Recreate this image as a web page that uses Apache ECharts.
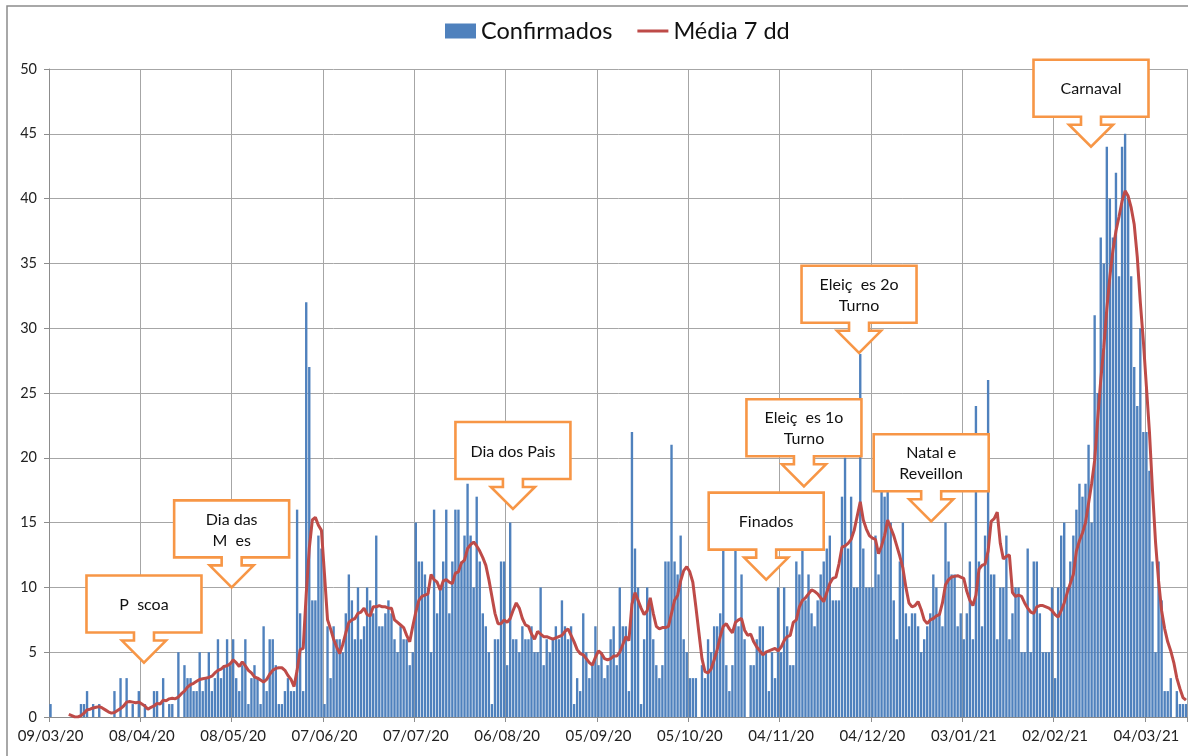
<!DOCTYPE html>
<html><head><meta charset="utf-8">
<script src="https://cdn.jsdelivr.net/npm/echarts@6/dist/echarts.min.js"></script>
<style>html,body{margin:0;padding:0;background:#fff}#c{width:1188px;height:756px}</style>
</head><body><div id="c"></div>
<script>
// ---- DATA ----
const startDate = [2020, 2, 9]; // 09/03/20 (first day)
const dayCount = 374;
const confirmados = [
1,0,0,0,0,0,0,0,0,0,
1,1,2,0,1,0,1,0,0,0,
0,2,0,3,0,3,0,1,0,2,
0,1,0,0,2,2,0,3,0,1,
1,0,5,0,4,3,3,2,2,5,
2,3,5,2,3,6,3,4,6,4,
6,3,2,4,6,1,3,4,3,1,
7,2,6,6,4,1,1,2,3,2,
2,16,8,2,32,27,9,9,14,13,
1,7,3,7,6,6,5,8,11,9,
6,10,6,7,10,9,8,14,7,7,
8,9,8,6,5,7,6,6,4,5,
15,12,12,11,10,5,16,8,10,12,
16,8,12,16,16,12,14,18,14,10,
17,12,8,7,5,1,6,6,12,12,
4,15,6,6,5,7,6,6,7,5,
5,10,4,6,5,6,7,6,9,7,
6,7,1,3,2,8,5,3,4,7,
4,5,3,4,6,7,4,10,7,7,
2,22,13,10,1,6,10,9,6,4,
3,4,12,12,21,12,11,14,6,5,
3,3,3,0,4,3,6,5,7,7,
8,13,4,2,4,13,7,11,6,0,
4,4,6,7,7,5,2,5,3,10,
5,10,7,4,4,12,11,13,9,11,
8,7,9,11,12,13,14,9,9,9,
17,20,13,17,10,10,28,13,10,10,
10,14,11,18,17,18,15,9,6,12,
15,8,7,8,8,7,5,6,7,8,
11,10,8,7,15,12,11,11,7,8,
6,8,12,6,24,12,7,14,26,11,
11,6,10,10,14,6,8,10,10,5,
5,13,5,12,12,8,5,5,5,10,
3,10,14,15,10,12,14,16,18,17,
18,21,15,31,25,37,35,44,40,37,
42,34,44,45,40,34,27,24,30,22,
22,19,12,5,12,9,2,2,3,0,
2,1,1,1
];
const media7 = [
null,null,null,null,null,null,0.2,0.1,0.0,0.0,
0.1,0.3,0.55,0.6,0.7,0.75,0.8,0.7,0.55,0.4,
0.3,0.35,0.5,0.65,0.85,1.15,1.2,1.15,1.1,1.15,
1.0,0.85,0.6,0.75,0.85,1.05,1.0,1.3,1.25,1.4,
1.45,1.4,1.55,1.8,2.0,2.3,2.5,2.6,2.75,2.9,
2.95,3.0,3.05,3.15,3.4,3.6,3.7,3.9,3.95,4.1,
4.4,4.2,3.9,4.25,3.95,3.6,3.4,3.1,3.0,2.85,
2.7,2.9,3.3,3.6,3.75,3.8,3.8,3.6,3.2,2.9,
2.35,3.6,5.2,5.3,9.5,13.0,15.2,15.4,14.8,14.4,
11.0,7.5,6.8,6.0,5.4,4.9,5.6,6.5,7.3,7.5,
7.6,8.0,8.1,8.4,7.9,7.8,8.5,8.5,8.6,8.5,
8.5,8.4,8.4,7.5,7.3,7.1,6.9,6.3,5.8,7.0,
8.1,9.0,9.3,9.4,9.5,11.0,10.6,10.4,9.8,10.5,
10.6,10.4,10.3,11.1,11.2,11.9,12.1,13.0,13.3,13.5,
13.2,12.8,12.3,11.7,10.6,9.3,8.0,7.2,7.2,7.5,
7.3,7.6,8.25,8.8,8.4,7.6,7.1,7.0,6.4,6.0,
6.6,6.4,6.2,6.2,6.1,6.0,6.1,6.2,6.3,6.6,
6.8,6.3,5.8,5.2,4.9,4.8,4.5,4.2,4.0,4.6,
5.1,4.9,4.5,4.4,4.5,4.7,4.7,5.0,5.6,6.2,
5.9,8.7,9.6,9.0,8.4,7.9,8.2,9.2,8.0,7.0,
6.8,6.9,6.9,7.0,8.0,9.0,9.4,10.5,11.3,11.6,
11.2,10.4,8.5,6.5,4.5,3.5,3.4,3.7,4.4,5.2,
6.2,7.0,7.2,6.8,6.5,7.3,7.5,7.6,6.7,6.3,
6.4,5.8,5.4,5.1,4.8,5.0,5.1,5.2,5.3,5.1,
5.4,5.9,6.2,6.3,7.3,7.5,8.5,9.0,9.2,9.5,
9.8,9.7,9.5,9.2,8.9,9.6,10.3,10.7,10.8,11.8,
13.1,13.2,13.4,13.7,14.4,15.5,16.6,15.2,14.5,14.0,
13.8,13.7,12.6,13.2,14.0,15.2,14.6,14.0,13.2,12.4,
11.5,10.0,8.8,8.5,8.6,8.9,8.3,7.5,7.2,7.5,
7.6,7.8,7.9,8.8,10.2,10.6,10.8,10.85,10.9,10.8,
10.7,9.7,9.0,8.6,9.4,11.4,11.7,11.8,12.8,15.1,
15.3,15.8,13.4,12.2,12.4,12.5,9.6,9.3,9.4,9.3,
8.8,8.4,8.1,8.0,8.5,8.6,8.6,8.5,8.4,8.2,
7.9,7.7,8.2,8.8,9.6,10.3,11.0,12.8,13.6,14.2,
15.0,16.5,18.0,19.8,23.0,26.0,28.5,31.5,34.0,36.0,
37.5,38.6,39.8,40.6,40.2,39.3,38.0,35.5,32.0,29.0,
25.5,22.0,17.5,13.5,10.5,8.2,6.8,5.8,5.1,4.2,
3.0,2.2,1.5,1.3
];
const labelEvery = 30;
const yMin = 0, yMax = 50, yStep = 5;
const seriesNames = ['Confirmados', 'Média 7 dd'];
const annotations = [
  {text: 'P  scoa', day: 30.7, value: 4.2},
  {text: 'Dia das\nM  es', day: 59.5, value: 10.0},
  {text: 'Dia dos Pais', day: 151.9, value: 16.05},
  {text: 'Finados', day: 235.1, value: 10.6},
  {text: 'Eleiç  es 1o\nTurno', day: 247.5, value: 17.8},
  {text: 'Eleiç  es 2o\nTurno', day: 265.6, value: 28.1},
  {text: 'Natal e\nReveillon', day: 289.3, value: 15.1},
  {text: 'Carnaval', day: 341.8, value: 44.0}
];

// ---- categories (dates) ----
function pad(n){return (n<10?'0':'')+n;}
const categories = [];
for (let i = 0; i < dayCount; i++) {
  const d = new Date(startDate[0], startDate[1], startDate[2] + i, 12);
  categories.push(pad(d.getDate()) + '/' + pad(d.getMonth()+1) + '/' + String(d.getFullYear()).slice(2));
}

const FONT = 'Lato, "Open Sans", sans-serif';
const GRID_COLOR = '#a6a6a6';
const chart = echarts.init(document.getElementById('c'), null, {renderer: 'canvas'});
const everyN = (i) => i % labelEvery === 0;

chart.setOption({
  animation: false,
  backgroundColor: '#ffffff',
  grid: {left: 49, right: 0.5, top: 69, bottom: 39, containLabel: false},
  legend: {
    left: 445, top: 19, padding: 0,
    itemWidth: 31, itemHeight: 15, itemGap: 25,
    textStyle: {fontFamily: FONT, fontSize: 23.5, color: '#111'},
    data: [
      {name: seriesNames[0], icon: 'rect'},
      {name: seriesNames[1], icon: 'path://M0,0L0.05,0L0.05,0.05Z M0,6L32,6L32,9L0,9Z M0,15L0.05,15L0.05,14.95Z'}
    ]
  },
  xAxis: {
    type: 'category', data: categories, boundaryGap: true,
    axisLine: {show: true, lineStyle: {color: '#8c8c8c', width: 1}},
    axisTick: {show: true, interval: (i) => everyN(i), length: 5, lineStyle: {color: '#8c8c8c'}},
    axisLabel: {interval: (i) => everyN(i), fontFamily: FONT, fontSize: 15, color: '#222', margin: 12},
    splitLine: {show: true, interval: (i) => everyN(i), lineStyle: {color: GRID_COLOR, width: 1}}
  },
  yAxis: {
    type: 'value', min: yMin, max: yMax, interval: yStep,
    axisLine: {show: true, lineStyle: {color: '#8c8c8c', width: 1}},
    axisTick: {show: true, length: 5, lineStyle: {color: '#8c8c8c'}},
    axisLabel: {fontFamily: FONT, fontSize: 14.5, color: '#222', margin: 12},
    splitLine: {show: true, lineStyle: {color: GRID_COLOR, width: 1}}
  },
  series: [
    {name: seriesNames[0], type: 'bar', data: confirmados, barCategoryGap: '22%',
     itemStyle: {color: '#4F81BD'}, z: 2},
    {name: seriesNames[1], type: 'line', data: media7, showSymbol: false, symbol: 'none',
     connectNulls: false, lineStyle: {color: '#BE4B48', width: 3}, itemStyle: {color: '#BE4B48'}, z: 3}
  ]
});

function tipPixel(day, value) {
  const i0 = Math.floor(day), f = day - i0;
  const p0 = chart.convertToPixel({xAxisIndex: 0, yAxisIndex: 0}, [i0, value]);
  const p1 = chart.convertToPixel({xAxisIndex: 0, yAxisIndex: 0}, [i0 + 1, value]);
  return [p0[0] + f * (p1[0] - p0[0]), p0[1]];
}

const graphics = [{
  type: 'rect', silent: true, z: 0,
  shape: {x: 7, y: 6, width: 1400, height: 1000},
  style: {fill: 'none', stroke: '#8c8c8c', lineWidth: 1.5}
}];
annotations.forEach(a => {
  const [tx, ty] = tipPixel(a.day, a.value);
  const L = tx - 57.5, R = tx + 57.5, T = ty - 87, B = ty - 30;
  const nb = B + 8;
  graphics.push({
    type: 'polygon', z: 100,
    shape: {points: [[L,T],[R,T],[R,B],[tx+10,B],[tx+10,nb],[tx+22,nb],[tx,ty],[tx-22,nb],[tx-10,nb],[tx-10,B],[L,B]]},
    style: {fill: '#ffffff', stroke: '#F79646', lineWidth: 2.6, lineJoin: 'miter'}
  });
  graphics.push({
    type: 'text', z: 101,
    style: {text: a.text, x: tx, y: (T + B) / 2 + 1, align: 'center', verticalAlign: 'middle',
            font: '16px ' + FONT, fill: '#111', lineHeight: 21}
  });
});
chart.setOption({graphic: graphics});
</script>
</body></html>
